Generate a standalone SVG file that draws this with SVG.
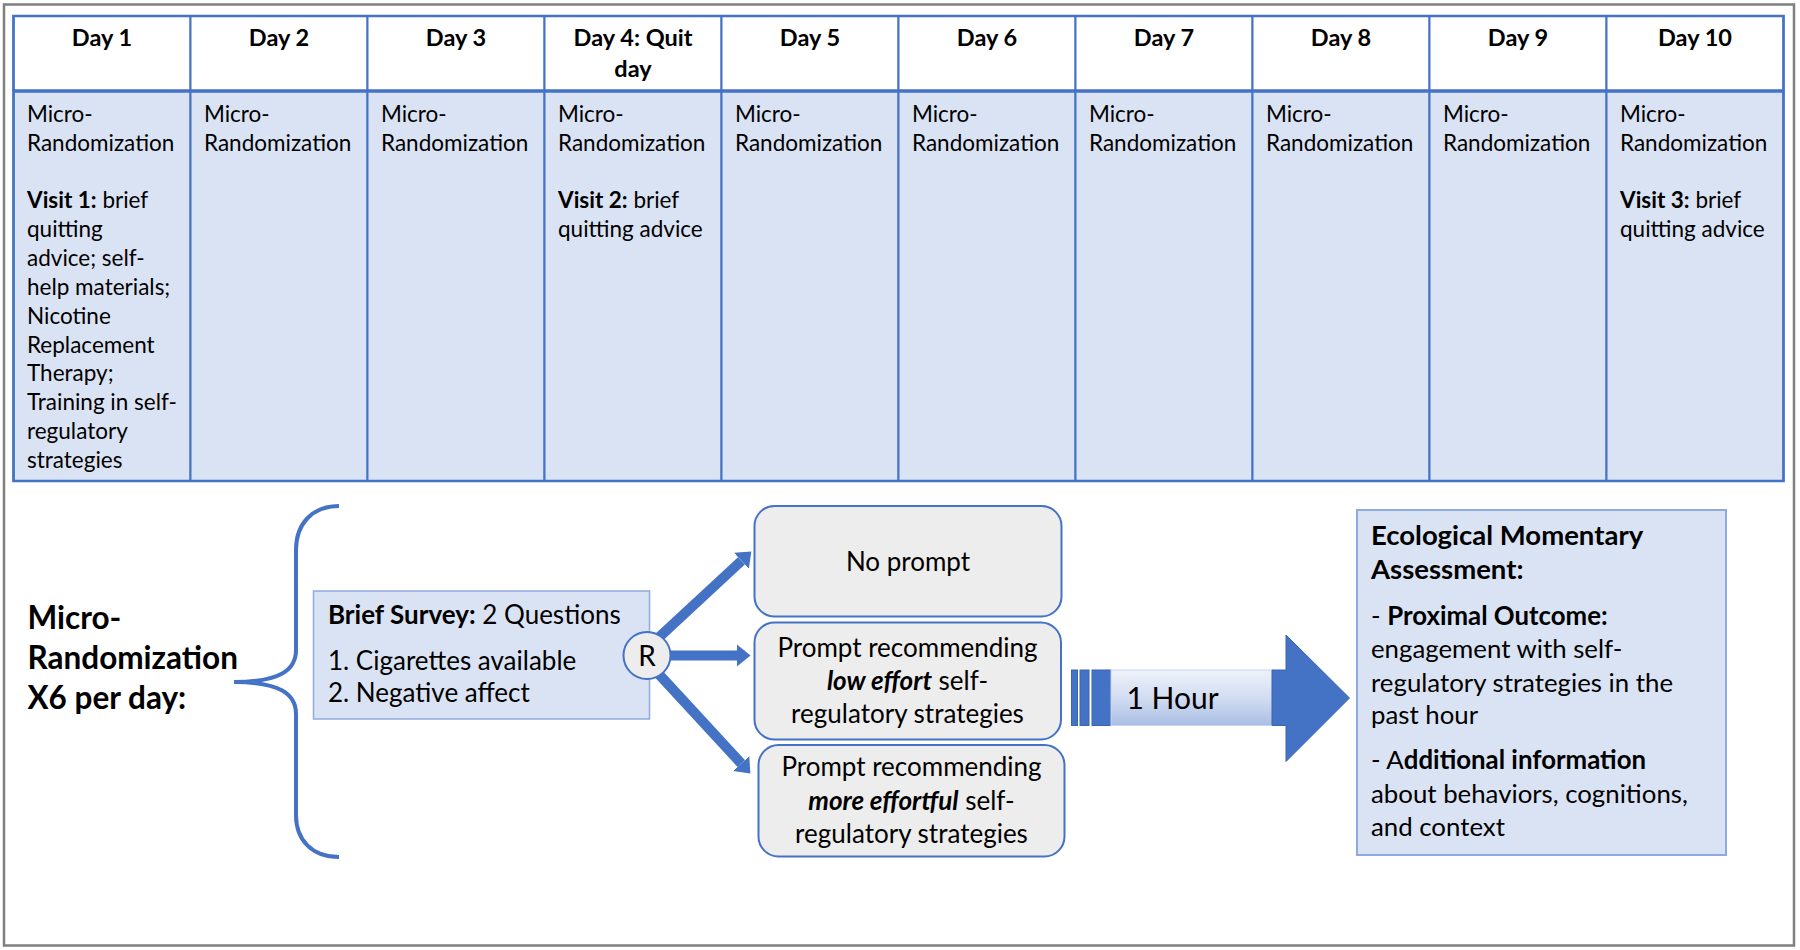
<svg xmlns="http://www.w3.org/2000/svg" width="1800" height="950" viewBox="0 0 1800 950">
<defs>
<style>
text { font-family: Lato, 'Liberation Sans', sans-serif; fill: #000; }
.hd { font-size: 23.5px; font-weight: bold; text-anchor: middle; }
.cell { font-size: 22.5px; }
.b { font-weight: bold; }
.bi { font-weight: bold; font-style: italic; }
.hcell { fill: #ffffff; stroke: #4472c4; stroke-width: 2; }
.bcell { fill: #dae3f3; stroke: #4472c4; stroke-width: 2; }
.title { font-size: 31.5px; font-weight: bold; }
.survey { font-size: 26px; }
.opt { fill: #ededed; stroke: #4472c4; stroke-width: 2; }
.opttext { font-size: 26px; text-anchor: middle; }
.ema { font-size: 25.8px; }
.emah { font-size: 27.5px; font-weight: bold; }
.conn { stroke: #4472c4; stroke-width: 10; fill: none; marker-end: url(#ah); }
.blue { fill: #4472c4; stroke: #3a64b0; stroke-width: 1; }
</style>
<linearGradient id="hourGrad" x1="0" y1="0" x2="0" y2="1">
<stop offset="0" stop-color="#eef2fa"/>
<stop offset="0.5" stop-color="#d2ddf1"/>
<stop offset="1" stop-color="#a9bee4"/>
</linearGradient>
<marker id="ah" markerUnits="userSpaceOnUse" markerWidth="14" markerHeight="24" refX="0" refY="12" orient="auto" viewBox="0 0 14 24">
<path d="M0,1 L13.5,12 L0,23 z" fill="#4472c4"/>
</marker>
</defs>
<rect x="0" y="0" width="1800" height="950" fill="#ffffff"/>
<rect x="4" y="4.5" width="1790" height="941" fill="none" stroke="#7f7f7f" stroke-width="2.5"/>

<g id="table">
<g id="day1">
<rect class="hcell" x="13.5" y="16" width="177" height="75"/>
<rect class="bcell" x="13.5" y="91" width="177" height="390"/>
<text class="hd" x="102" y="46">Day 1</text>
<text class="cell" x="27"><tspan x="27" y="121.7">Micro-</tspan><tspan x="27" y="150.6">Randomization</tspan><tspan x="27" y="208.3" class="b">Visit 1:</tspan><tspan> brief</tspan><tspan x="27" y="237.1">quitting</tspan><tspan x="27" y="266">advice; self-</tspan><tspan x="27" y="294.8">help materials;</tspan><tspan x="27" y="323.7">Nicotine</tspan><tspan x="27" y="352.5">Replacement</tspan><tspan x="27" y="381.4">Therapy;</tspan><tspan x="27" y="410.2">Training  in self-</tspan><tspan x="27" y="439.1">regulatory</tspan><tspan x="27" y="467.9">strategies</tspan></text>
</g>
<g id="day2">
<rect class="hcell" x="190.5" y="16" width="177" height="75"/>
<rect class="bcell" x="190.5" y="91" width="177" height="390"/>
<text class="hd" x="279" y="46">Day 2</text>
<text class="cell"><tspan x="204" y="121.7">Micro-</tspan><tspan x="204" y="150.6">Randomization</tspan></text>
</g>
<g id="day3">
<rect class="hcell" x="367.5" y="16" width="177" height="75"/>
<rect class="bcell" x="367.5" y="91" width="177" height="390"/>
<text class="hd" x="456" y="46">Day 3</text>
<text class="cell"><tspan x="381" y="121.7">Micro-</tspan><tspan x="381" y="150.6">Randomization</tspan></text>
</g>
<g id="day4">
<rect class="hcell" x="544.5" y="16" width="177" height="75"/>
<rect class="bcell" x="544.5" y="91" width="177" height="390"/>
<text class="hd"><tspan x="633" y="46">Day 4: Quit</tspan><tspan x="633" y="76.5">day</tspan></text>
<text class="cell"><tspan x="558" y="121.7">Micro-</tspan><tspan x="558" y="150.6">Randomization</tspan><tspan x="558" y="208.3" class="b">Visit 2:</tspan><tspan> brief</tspan><tspan x="558" y="237.1">quitting advice</tspan></text>
</g>
<g id="day5">
<rect class="hcell" x="721.5" y="16" width="177" height="75"/>
<rect class="bcell" x="721.5" y="91" width="177" height="390"/>
<text class="hd" x="810" y="46">Day 5</text>
<text class="cell"><tspan x="735" y="121.7">Micro-</tspan><tspan x="735" y="150.6">Randomization</tspan></text>
</g>
<g id="day6">
<rect class="hcell" x="898.5" y="16" width="177" height="75"/>
<rect class="bcell" x="898.5" y="91" width="177" height="390"/>
<text class="hd" x="987" y="46">Day 6</text>
<text class="cell"><tspan x="912" y="121.7">Micro-</tspan><tspan x="912" y="150.6">Randomization</tspan></text>
</g>
<g id="day7">
<rect class="hcell" x="1075.5" y="16" width="177" height="75"/>
<rect class="bcell" x="1075.5" y="91" width="177" height="390"/>
<text class="hd" x="1164" y="46">Day 7</text>
<text class="cell"><tspan x="1089" y="121.7">Micro-</tspan><tspan x="1089" y="150.6">Randomization</tspan></text>
</g>
<g id="day8">
<rect class="hcell" x="1252.5" y="16" width="177" height="75"/>
<rect class="bcell" x="1252.5" y="91" width="177" height="390"/>
<text class="hd" x="1341" y="46">Day 8</text>
<text class="cell"><tspan x="1266" y="121.7">Micro-</tspan><tspan x="1266" y="150.6">Randomization</tspan></text>
</g>
<g id="day9">
<rect class="hcell" x="1429.5" y="16" width="177" height="75"/>
<rect class="bcell" x="1429.5" y="91" width="177" height="390"/>
<text class="hd" x="1518" y="46">Day 9</text>
<text class="cell"><tspan x="1443" y="121.7">Micro-</tspan><tspan x="1443" y="150.6">Randomization</tspan></text>
</g>
<g id="day10">
<rect class="hcell" x="1606.5" y="16" width="177" height="75"/>
<rect class="bcell" x="1606.5" y="91" width="177" height="390"/>
<text class="hd" x="1695" y="46">Day 10</text>
<text class="cell"><tspan x="1620" y="121.7">Micro-</tspan><tspan x="1620" y="150.6">Randomization</tspan><tspan x="1620" y="208.3" class="b">Visit 3:</tspan><tspan> brief</tspan><tspan x="1620" y="237.1">quitting advice</tspan></text>
</g>
<line x1="13.5" y1="91" x2="1783.5" y2="91" stroke="#4472c4" stroke-width="3.5"/>
<rect x="13.5" y="16" width="1770" height="465" fill="none" stroke="#4472c4" stroke-width="2.5"/>
</g>

<g id="mr-title">
<text class="title"><tspan x="27.5" y="629">Micro-</tspan><tspan x="27.5" y="669">Randomization</tspan><tspan x="27.5" y="709">X6 per day:</tspan></text>
<path d="M339,506 C312,506 296,524 296,550 L296,650 C296,670 280,682 234,682 C280,682 296,694 296,714 L296,815 C296,840 312,857 339,857" fill="none" stroke="#4472c4" stroke-width="4"/>
</g>

<g id="survey">
<rect x="313.5" y="591" width="336" height="128" fill="#dae3f3" stroke="#8faadc" stroke-width="1.5"/>
<text class="survey"><tspan x="328" y="624" class="b">Brief Survey:</tspan><tspan> 2 Questions</tspan><tspan x="328" y="670">1. Cigarettes available</tspan><tspan x="328" y="702">2. Negative affect</tspan></text>
</g>

<g id="connectors">
<line class="conn" x1="655" y1="641" x2="741.4" y2="560.8"/>
<line class="conn" x1="660" y1="655.5" x2="737" y2="655.5"/>
<line class="conn" x1="655" y1="670" x2="741.2" y2="763.5"/>
</g>

<g id="randomize">
<circle cx="647" cy="655.5" r="23.5" fill="#ededed" stroke="#4472c4" stroke-width="2"/>
<text x="647" y="665.5" font-size="28" text-anchor="middle">R</text>
</g>

<g id="opt-none">
<rect class="opt" x="754.5" y="506" width="307" height="110.5" rx="20"/>
<text class="opttext" x="908" y="571">No prompt</text>
</g>
<g id="opt-low">
<rect class="opt" x="754.5" y="622.5" width="306.5" height="117" rx="20"/>
<text class="opttext"><tspan x="907.5" y="657">Prompt recommending</tspan><tspan x="907.5" y="690"><tspan class="bi">low effort</tspan> self-</tspan><tspan x="907.5" y="723">regulatory strategies</tspan></text>
</g>
<g id="opt-more">
<rect class="opt" x="758.5" y="745" width="306" height="111.5" rx="20"/>
<text class="opttext"><tspan x="911.5" y="776">Prompt recommending</tspan><tspan x="911.5" y="810"><tspan class="bi">more effortful</tspan> self-</tspan><tspan x="911.5" y="843">regulatory strategies</tspan></text>
</g>

<g id="hour-arrow">
<rect class="blue" x="1071.5" y="670" width="6" height="55.5"/>
<rect class="blue" x="1080" y="670" width="9" height="55.5"/>
<rect class="blue" x="1092" y="670" width="19" height="55.5"/>
<rect x="1111" y="670" width="161.5" height="55.5" fill="url(#hourGrad)" stroke="#c5d3ed" stroke-width="1"/>
<polygon class="blue" points="1272,670 1286,670 1286,635 1349.5,698 1286,761.5 1286,725.5 1272,725.5"/>
<text x="1126.5" y="708.5" font-size="30">1 Hour</text>
</g>

<g id="ema">
<rect x="1357" y="510" width="369" height="345" fill="#dae3f3" stroke="#8faadc" stroke-width="2"/>
<text class="ema"><tspan x="1371" y="545" class="emah">Ecological Momentary</tspan><tspan x="1371" y="579.3" class="emah">Assessment:</tspan><tspan x="1371" y="625">- </tspan><tspan class="b">Proximal Outcome:</tspan><tspan x="1371" y="657.7">engagement with self-</tspan><tspan x="1371" y="691.7">regulatory strategies in the</tspan><tspan x="1371" y="724.3">past hour</tspan><tspan x="1371" y="769">- A</tspan><tspan class="b">dditional information</tspan><tspan x="1371" y="803.3">about behaviors, cognitions,</tspan><tspan x="1371" y="835.7">and context</tspan></text>
</g>
</svg>
